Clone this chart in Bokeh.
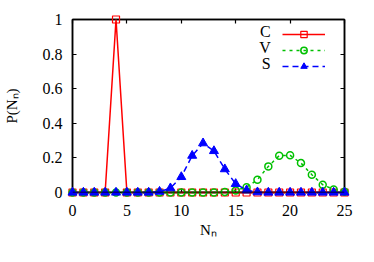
from bokeh.plotting import figure
from bokeh.models import (Range1d, LinearAxis, FixedTicker, NumeralTickFormatter,
                          Label, Legend, LegendItem, Span)
from bokeh.embed import file_html
from bokeh.resources import INLINE

# ---- data ----
n_values = list(range(26))
p_C = [0, 0, 0, 0, 1, 0, 0, 0, 0, 0, 0, 0, 0, 0, 0, 0, 0, 0, 0, 0, 0, 0, 0, 0, 0, 0]
p_V = [0, 0, 0, 0, 0, 0, 0, 0, 0, 0, 0, 0, 0, 0, 0.003, 0.012, 0.031, 0.074, 0.151,
       0.213, 0.215, 0.17, 0.103, 0.045, 0.018, 0.005]
p_S = [0, 0, 0, 0, 0, 0, 0, 0, 0.005, 0.025, 0.09, 0.213, 0.285, 0.24, 0.135, 0.05,
       0.013, 0.002, 0, 0, 0, 0, 0, 0, 0, 0]
x_ticks = [0, 5, 10, 15, 20, 25]
y_ticks = [0, 0.2, 0.4, 0.6, 0.8, 1]
series_names = ["C", "V", "S"]
x_title = "N\u2099"
y_title = "P(N\u2099)"

RED = "#ff0000"
GREEN = "#00c000"
BLUE = "#0000ff"
FONT = "Liberation Serif"

p = figure(width=366, height=254, output_backend="svg", toolbar_location=None,
           x_range=Range1d(0, 25), y_range=Range1d(0, 1),
           min_border_left=71, min_border_right=22, min_border_top=19, min_border_bottom=62)
p.background_fill_color = "white"
p.border_fill_color = "white"
p.grid.visible = False
p.outline_line_color = "black"
p.outline_line_width = 1.5

bottom_ax = p.below[0]
left_ax = p.left[0]
bottom_ax.ticker = FixedTicker(ticks=x_ticks)
left_ax.ticker = FixedTicker(ticks=y_ticks)
left_ax.formatter = NumeralTickFormatter(format="0.[0]")

top_ax = LinearAxis(ticker=FixedTicker(ticks=x_ticks))
right_ax = LinearAxis(ticker=FixedTicker(ticks=y_ticks))
p.add_layout(top_ax, "above")
p.add_layout(right_ax, "right")

for ax in [bottom_ax, left_ax, top_ax, right_ax]:
    ax.axis_line_color = "black"
    ax.axis_line_width = 1.5
    ax.major_tick_line_color = "black"
    ax.major_tick_line_width = 1.2
    ax.major_tick_in = 4
    ax.major_tick_out = 0
    ax.minor_tick_line_color = None
    ax.major_label_text_font = FONT
    ax.major_label_text_font_size = "16px"
    ax.major_label_text_color = "black"
for ax in [top_ax, right_ax]:
    ax.major_label_text_font_size = "0px"
    ax.major_label_text_color = None
    ax.major_label_standoff = 0
bottom_ax.major_label_standoff = 12
left_ax.major_label_standoff = 10

bottom_ax.axis_label = x_title
left_ax.axis_label = y_title
for ax in [bottom_ax, left_ax]:
    ax.axis_label_text_font = FONT
    ax.axis_label_text_font_size = "15px"
    ax.axis_label_text_font_style = "normal"
    ax.axis_label_text_color = "black"
bottom_ax.axis_label_standoff = 3
left_ax.axis_label_standoff = 20

# ---- series ----
lC = p.line(n_values, p_C, line_color=RED, line_width=1.5, level="overlay")
sC = p.scatter(n_values, p_C, marker="square", size=7, line_color=RED, fill_color=None,
               line_width=1.2, level="overlay")
lV = p.line(n_values, p_V, line_color=GREEN, line_width=1.5, line_dash="3 4", level="overlay")
sV = p.scatter(n_values, p_V, marker="circle", size=7, line_color=GREEN, fill_color=None,
               line_width=1.5, level="overlay")
lS = p.line(n_values, p_S, line_color=BLUE, line_width=1.5, line_dash="6 4", level="overlay")
sS = p.scatter(n_values, p_S, marker="triangle", size=9, line_color=BLUE, fill_color=BLUE,
               line_width=1, level="overlay")

base = Span(location=0, dimension="width", line_color="black", line_width=1.5, level="overlay")
p.add_layout(base)

# ---- legend (samples via Legend, texts via Labels on the left like gnuplot) ----
legend = Legend(items=[LegendItem(label=" ", renderers=[lC, sC]),
                       LegendItem(label=" ", renderers=[lV, sV]),
                       LegendItem(label=" ", renderers=[lS, sS])],
                location=(210, 118), padding=0, margin=0, spacing=0,
                glyph_width=43, glyph_height=16, label_width=0, label_standoff=0,
                label_text_font_size="1px", background_fill_alpha=0,
                border_line_color=None)
p.add_layout(legend, "center")

for name, yv in zip(series_names, [0.932, 0.837, 0.744]):
    p.add_layout(Label(x=18.22, y=yv, text=name, text_align="right", text_baseline="middle",
                       text_font=FONT, text_font_size="16px", text_color="black"))

open("out.html", "w").write(file_html(p, INLINE))
